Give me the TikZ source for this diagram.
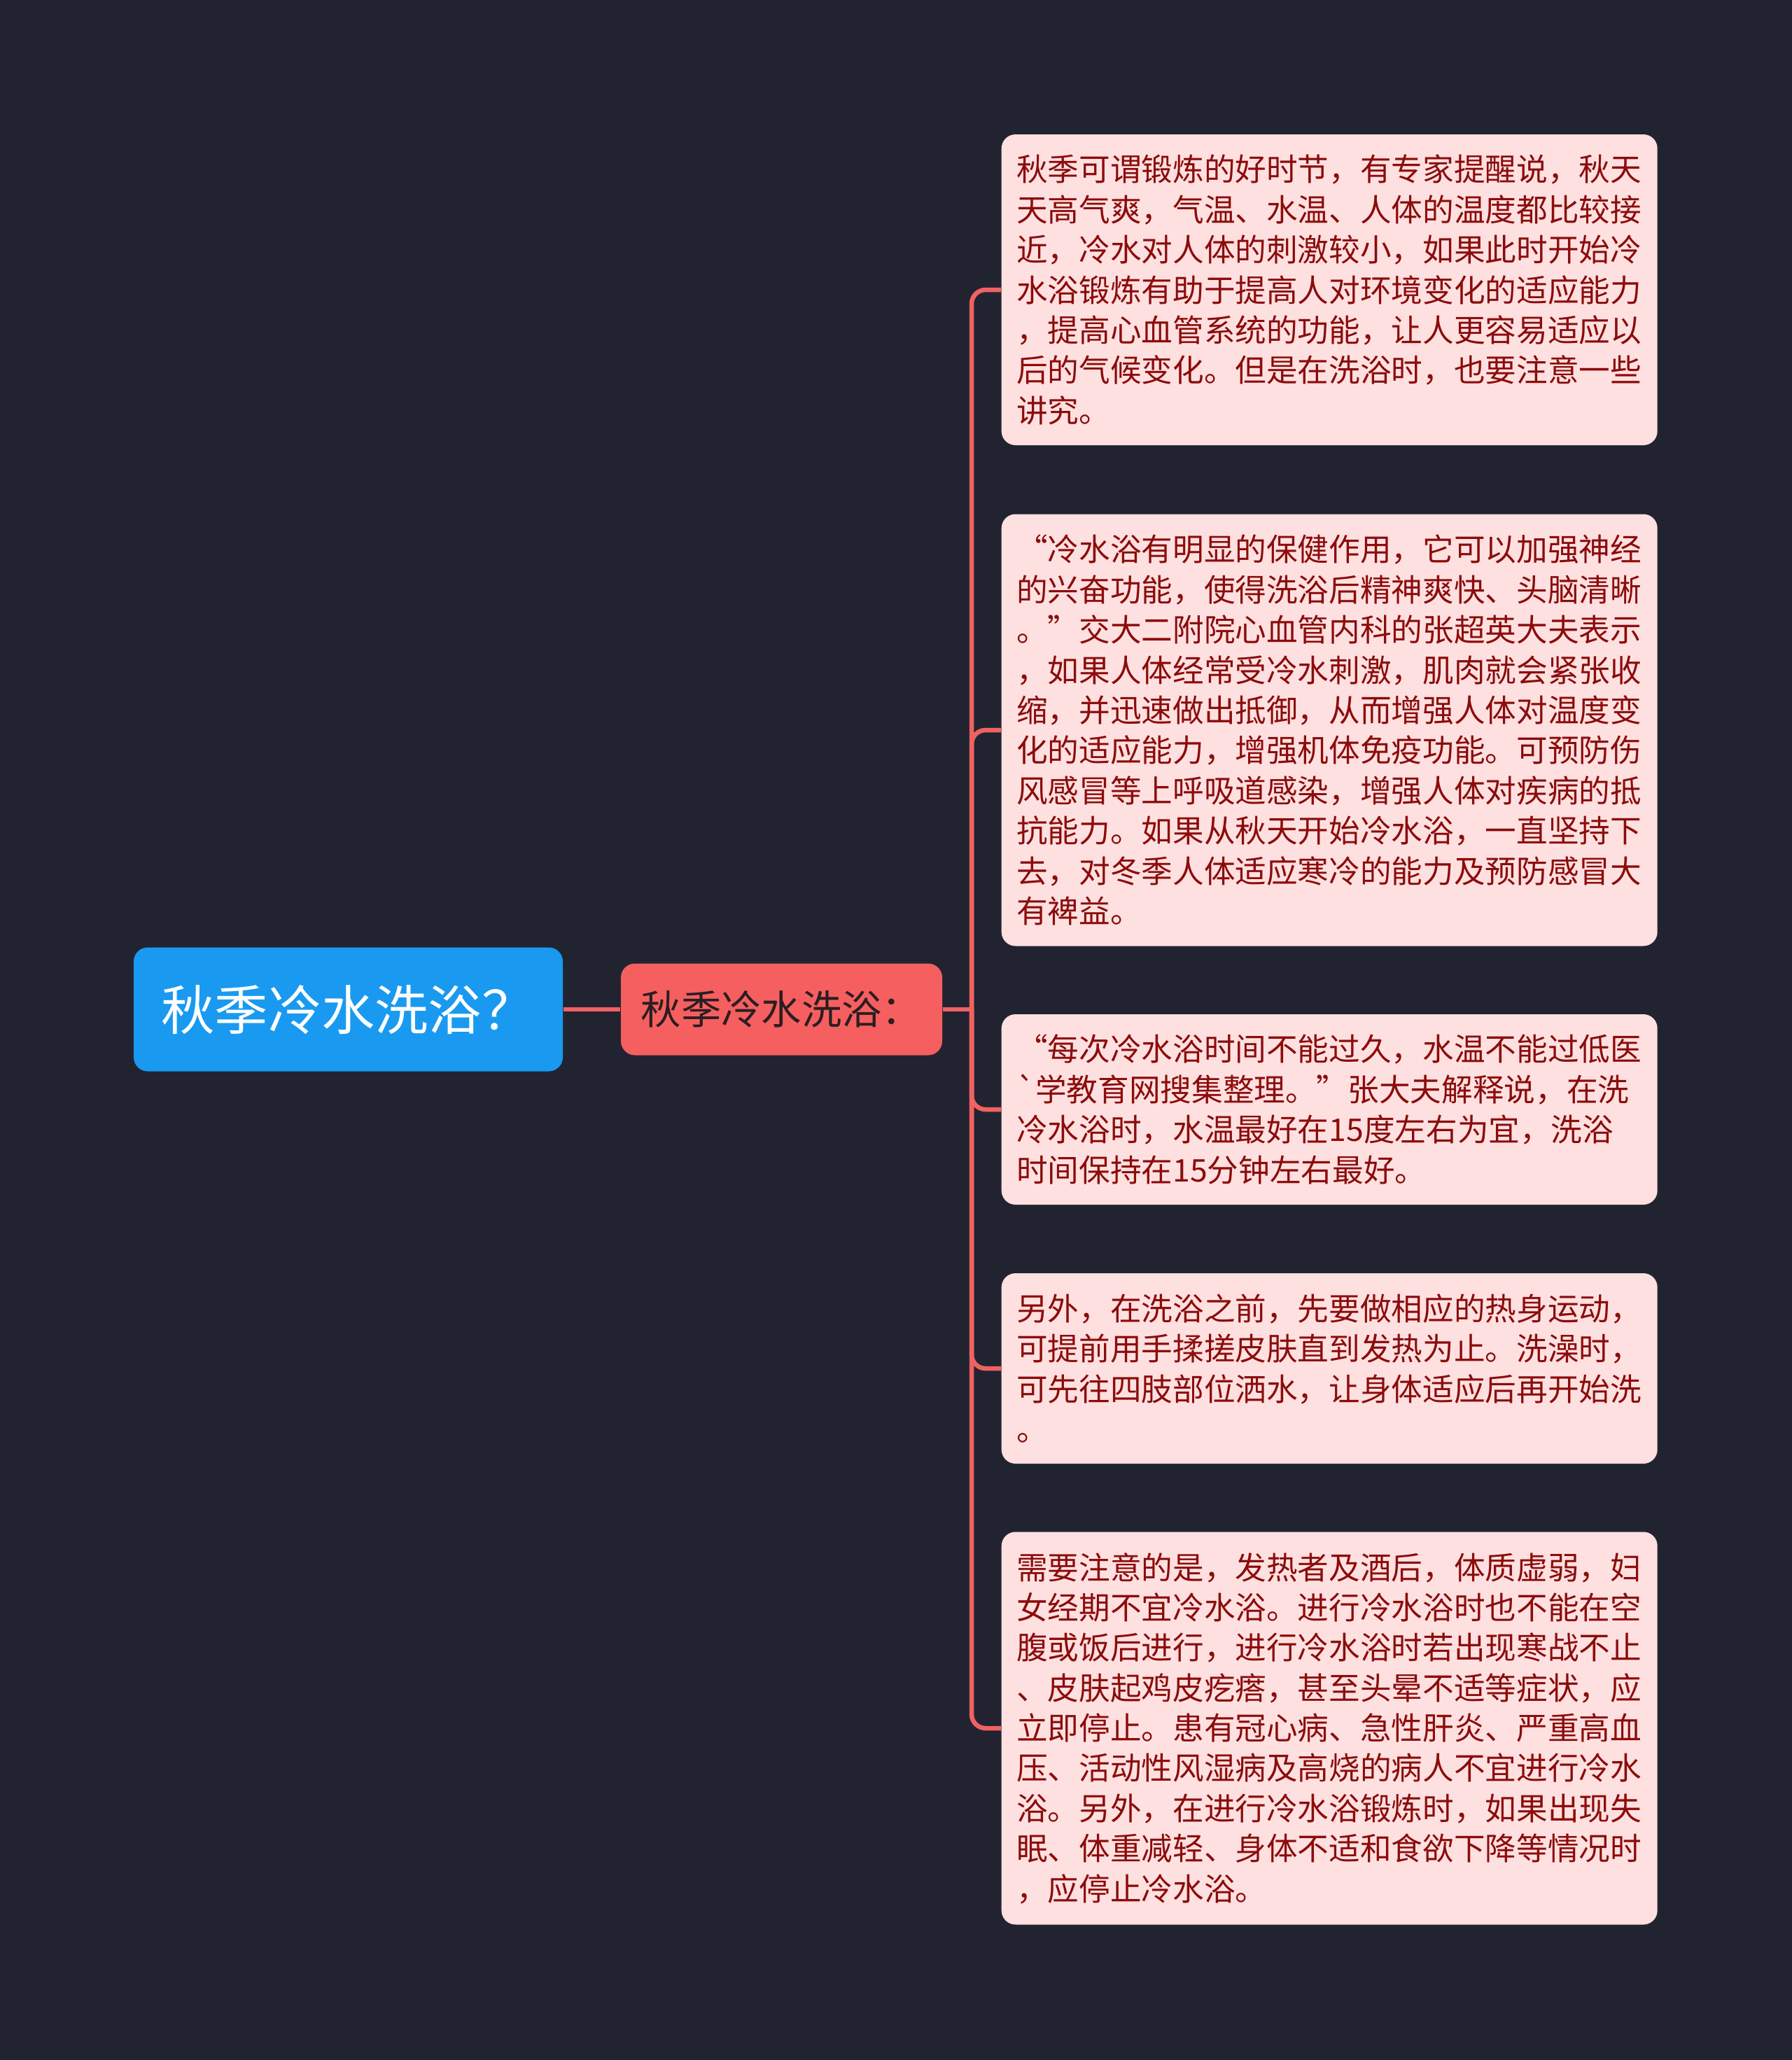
\documentclass[tikz,border=0pt]{standalone}
\usepackage{fontspec}
\newfontfamily\cjk{Noto Sans CJK SC}
\usepackage{tikz}
\definecolor{bgdark}{RGB}{33,36,48}
\definecolor{topicblue}{RGB}{25,154,240}
\definecolor{subred}{RGB}{246,95,95}
\definecolor{subtext}{RGB}{42,30,34}
\definecolor{leafpink}{RGB}{255,224,224}
\definecolor{leaftext}{RGB}{140,12,12}
\definecolor{linered}{RGB}{240,98,98}
\tikzset{topic/.style={rounded corners=0.2cm, fill=topicblue, text=white,
	minimum width=6.13cm, minimum height=1.77cm, inner sep=0pt,
	font=\cjk\fontsize{21.7}{26}\selectfont}}
\tikzset{subtopic/.style={rounded corners=0.2cm, fill=subred, text=subtext,
	minimum width=4.59cm, minimum height=1.31cm, inner sep=0pt,
	font=\cjk\fontsize{16.3}{20}\selectfont}}
\tikzset{leaf/.style={rounded corners=0.2cm, fill=leafpink, text=leaftext,
	anchor=west, text width=8.94cm, inner xsep=0.215cm, inner ysep=0pt, align=left,
	font=\cjk\fontsize{12.7}{16.33}\selectfont}}
\tikzset{branch/.style={draw=linered, line width=1.85pt, rounded corners=0.2cm}}

\begin{document}
\begin{tikzpicture}
	\fill[bgdark] (0,0) rectangle (25.6,-29.43);
	\useasboundingbox (0,0) rectangle (25.6,-29.43);
	\node[topic] (T) at (4.975,-14.42) {秋季冷水洗浴？};
	\node[subtopic] (S) at (11.165,-14.42) {秋季冷水洗浴：};
	\node[leaf, minimum height=4.44cm] (N1) at (14.30,-4.14) {%
		秋季可谓锻炼的好时节，有专家提醒说，秋天\\
		天高气爽，气温、水温、人体的温度都比较接\\
		近，冷水对人体的刺激较小，如果此时开始冷\\
		水浴锻炼有助于提高人对环境变化的适应能力\\
		，提高心血管系统的功能，让人更容易适应以\\
		后的气候变化。但是在洗浴时，也要注意一些\\
		讲究。};
	\node[leaf, minimum height=6.17cm] (N2) at (14.30,-10.43) {%
		“冷水浴有明显的保健作用，它可以加强神经\\
		的兴奋功能，使得洗浴后精神爽快、头脑清晰\\
		。”交大二附院心血管内科的张超英大夫表示\\
		，如果人体经常受冷水刺激，肌肉就会紧张收\\
		缩，并迅速做出抵御，从而增强人体对温度变\\
		化的适应能力，增强机体免疫功能。可预防伤\\
		风感冒等上呼吸道感染，增强人体对疾病的抵\\
		抗能力。如果从秋天开始冷水浴，一直坚持下\\
		去，对冬季人体适应寒冷的能力及预防感冒大\\
		有裨益。};
	\node[leaf, minimum height=2.72cm] (N3) at (14.30,-15.85) {%
		“每次冷水浴时间不能过久，水温不能过低医\\
		`学教育网搜集整理。”张大夫解释说，在洗\\
		冷水浴时，水温最好在15度左右为宜，洗浴\\
		时间保持在15分钟左右最好。};
	\node[leaf, minimum height=2.72cm] (N4) at (14.30,-19.55) {%
		另外，在洗浴之前，先要做相应的热身运动，\\
		可提前用手揉搓皮肤直到发热为止。洗澡时，\\
		可先往四肢部位洒水，让身体适应后再开始洗\\
		。};
	\node[leaf, minimum height=5.61cm] (N5) at (14.30,-24.69) {%
		需要注意的是，发热者及酒后，体质虚弱，妇\\
		女经期不宜冷水浴。进行冷水浴时也不能在空\\
		腹或饭后进行，进行冷水浴时若出现寒战不止\\
		、皮肤起鸡皮疙瘩，甚至头晕不适等症状，应\\
		立即停止。患有冠心病、急性肝炎、严重高血\\
		压、活动性风湿病及高烧的病人不宜进行冷水\\
		浴。另外，在进行冷水浴锻炼时，如果出现失\\
		眠、体重减轻、身体不适和食欲下降等情况时\\
		，应停止冷水浴。};
	\coordinate (J) at (13.88,-14.42);
	\draw[branch] (T) -- (S);
	\draw[branch] (S.east) -- (J);
	\foreach \n in {1,...,5}
		\draw[branch] (J) |- (N\n.west);
\end{tikzpicture}
\end{document}
